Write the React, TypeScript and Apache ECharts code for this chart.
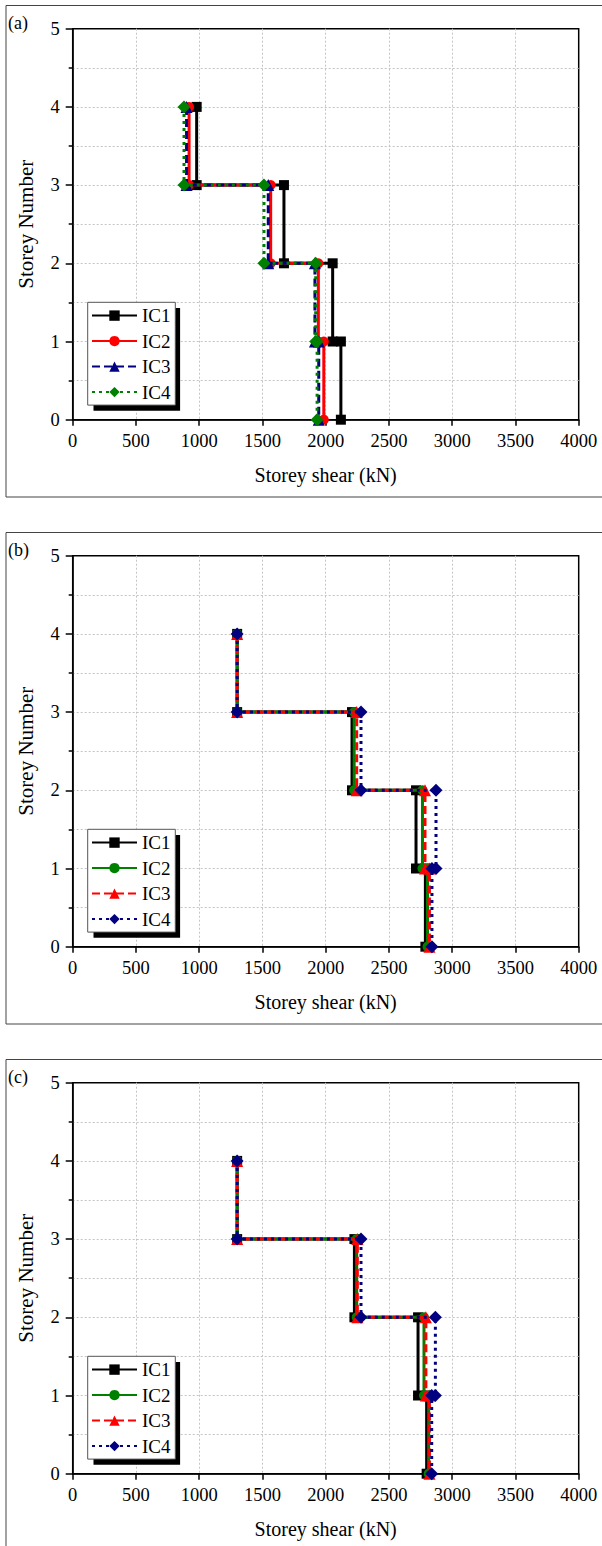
import React, { useEffect, useRef } from "react";
import * as echarts from "echarts";

// Storey level of each corner point of the step profile
const storeyLevels = [4, 3, 3, 2, 2, 1, 1, 0];
const seriesNames = ["IC1", "IC2", "IC3", "IC4"];
const panelLabels = ["(a)", "(b)", "(c)"];

// Panel (a): storey shear (kN) at each corner point
const a_IC1 = [980, 980, 1670, 1670, 2055, 2055, 2120, 2120];
const a_IC2 = [920, 920, 1565, 1565, 1942, 1942, 1985, 1985];
const a_IC3 = [900, 900, 1546, 1546, 1915, 1915, 1945, 1945];
const a_IC4 = [880, 880, 1512, 1512, 1921, 1921, 1932, 1932];

// Panel (b)
const b_IC1 = [1300, 1300, 2208, 2208, 2714, 2714, 2788, 2788];
const b_IC2 = [1300, 1300, 2225, 2225, 2765, 2765, 2805, 2805];
const b_IC3 = [1300, 1300, 2245, 2245, 2785, 2785, 2820, 2820];
const b_IC4 = [1300, 1300, 2279, 2279, 2872, 2872, 2840, 2840];

// Panel (c)
const c_IC1 = [1300, 1300, 2227, 2227, 2730, 2730, 2798, 2798];
const c_IC2 = [1300, 1300, 2245, 2245, 2777, 2777, 2814, 2814];
const c_IC3 = [1300, 1300, 2250, 2250, 2792, 2792, 2820, 2820];
const c_IC4 = [1300, 1300, 2279, 2279, 2867, 2867, 2838, 2838];

const FONT = "Liberation Serif";

const stylesA = [
  { color: "#000000", symbol: "rect", size: 10, dash: "solid" },
  { color: "#ff0000", symbol: "circle", size: 10, dash: "solid" },
  { color: "#000080", symbol: "triangle", size: 12, dash: [8, 4] },
  { color: "#008000", symbol: "diamond", size: 13, dash: [3, 4] },
];
const stylesBC = [
  { color: "#000000", symbol: "rect", size: 10, dash: "solid" },
  { color: "#008000", symbol: "circle", size: 10, dash: "solid" },
  { color: "#ff0000", symbol: "triangle", size: 12, dash: [8, 4] },
  { color: "#000080", symbol: "diamond", size: 13, dash: [3, 4] },
];

const panels = [
  { label: panelLabels[0], values: [a_IC1, a_IC2, a_IC3, a_IC4], styles: stylesA },
  { label: panelLabels[1], values: [b_IC1, b_IC2, b_IC3, b_IC4], styles: stylesBC },
  { label: panelLabels[2], values: [c_IC1, c_IC2, c_IC3, c_IC4], styles: stylesBC },
];

const GRID = { left: 72.7, top: 28.7, width: 506, height: 391 };
const LEG = { left: 87.7, top: 302.3, width: 86.6, height: 102.7 };

function buildOption(p: any) {
  const gridLine = { show: true, lineStyle: { color: "#c4c4c4", width: 1, type: [2, 2] } };
  return {
    animation: false,
    textStyle: { fontFamily: FONT },
    grid: { ...GRID, show: true, borderColor: "#000", borderWidth: 1.5, backgroundColor: "transparent" },
    xAxis: {
      type: "value",
      min: 0,
      max: 4000,
      interval: 500,
      name: "Storey shear (kN)",
      nameLocation: "middle",
      nameGap: 45,
      nameTextStyle: { fontFamily: FONT, fontSize: 20, color: "#000" },
      axisLine: { show: true, lineStyle: { color: "#000", width: 1.5 } },
      axisTick: { show: true, inside: false, length: 6, lineStyle: { color: "#000", width: 1.5 } },
      axisLabel: { fontFamily: FONT, fontSize: 18.5, color: "#000", margin: 12, formatter: (v: number) => String(v) },
      splitLine: { ...gridLine, showMinLine: false, showMaxLine: false },
    },
    yAxis: {
      type: "value",
      min: 0,
      max: 5,
      interval: 1,
      name: "Storey Number",
      nameLocation: "middle",
      nameGap: 36,
      nameTextStyle: { fontFamily: FONT, fontSize: 21, color: "#000" },
      axisLine: { show: true, lineStyle: { color: "#000", width: 1.5 } },
      axisTick: { show: true, inside: false, length: 7, lineStyle: { color: "#000", width: 1.5 } },
      minorTick: { show: true, splitNumber: 2, length: 4, lineStyle: { color: "#000", width: 1.5 } },
      axisLabel: { fontFamily: FONT, fontSize: 18.5, color: "#000", margin: 13, formatter: (v: number) => String(v) },
      splitLine: { ...gridLine, showMinLine: false, showMaxLine: false },
      minorSplitLine: { show: true, lineStyle: { color: "#c4c4c4", width: 1, type: [2, 2] } },
    },
    legend: {
      orient: "vertical",
      left: LEG.left,
      top: LEG.top,
      itemWidth: 45,
      itemHeight: 13,
      itemGap: 6.5,
      padding: [3.8, 4.8, 3.5, 3.3],
      backgroundColor: "#fff",
      borderColor: "#555",
      borderWidth: 1,
      textStyle: { fontFamily: FONT, fontSize: 19, color: "#000" },
      data: seriesNames,
      z: 6,
    },
    graphic: {
      elements: [
        {
          type: "rect",
          shape: { x: 6, y: 5.5, width: 620, height: 491.5 },
          style: { fill: "none", stroke: "#444", lineWidth: 1 },
          silent: true,
          z: 0,
        },
        {
          type: "rect",
          shape: { x: LEG.left + 5.8, y: LEG.top + 5.8, width: LEG.width, height: LEG.height },
          style: { fill: "#000" },
          silent: true,
          z: 5,
        },
        {
          type: "text",
          x: 8,
          y: 23,
          style: { text: p.label, fontFamily: FONT, fontSize: 18, fill: "#000", verticalAlign: "middle" },
          silent: true,
        },
      ],
    },
    series: p.values.map((xs: number[], i: number) => {
      const st = p.styles[i];
      return {
        type: "line",
        name: seriesNames[i],
        data: xs.map((x, k) => [x, storeyLevels[k]]),
        symbol: st.symbol,
        symbolSize: st.size,
        showSymbol: true,
        clip: false,
        lineStyle: { color: st.color, width: 3, type: st.dash },
        itemStyle: { color: st.color },
        z: 2 + i * 0.01,
      };
    }),
  };
}

function Panel({ p, top }: { p: any; top: number }) {
  const ref = useRef<HTMLDivElement>(null);
  useEffect(() => {
    if (!ref.current) return;
    const chart = echarts.init(ref.current, undefined, { renderer: "svg" });
    chart.setOption(buildOption(p));
    return () => chart.dispose();
  }, []);
  return (
    <div
      ref={ref}
      style={{ position: "absolute", left: 0, top, width: 602, height: 527 }}
    />
  );
}

export default function App() {
  return (
    <div
      style={{
        position: "absolute",
        left: 0,
        top: 0,
        width: 602,
        height: 1546,
        overflow: "hidden",
        background: "#fff",
      }}
    >
      {panels.map((p, i) => (
        <Panel key={i} p={p} top={i * 527} />
      ))}
    </div>
  );
}
